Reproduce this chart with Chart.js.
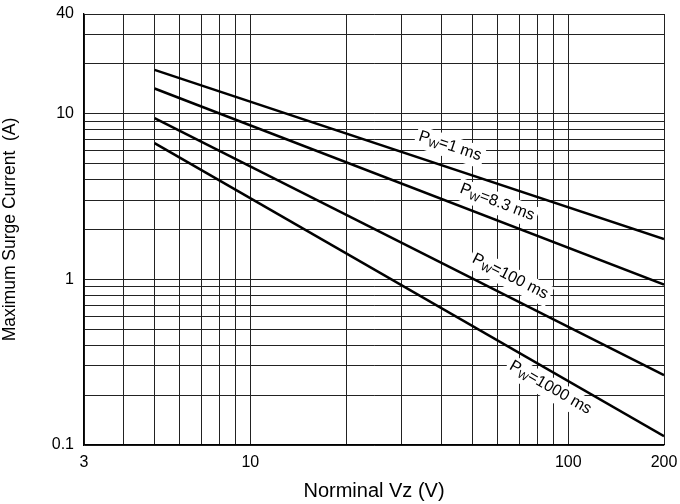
<!DOCTYPE html>
<html>
<head>
<meta charset="utf-8">
<script src="https://cdn.jsdelivr.net/npm/chart.js@4/dist/chart.umd.min.js"></script>
<style>
  html, body { margin: 0; padding: 0; background: #fff; }
  #wrap { width: 680px; height: 504px; }
</style>
</head>
<body>
<div id="wrap"><canvas id="c" width="680" height="504"></canvas></div>
<script>
// ---- data ----
const xValues = [5, 200];
const series1ms = [18.4, 1.75];
const series8_3ms = [14.2, 0.93];
const series100ms = [9.4, 0.264];
const series1000ms = [6.65, 0.113];
const seriesNames = ['1 ms', '8.3 ms', '100 ms', '1000 ms'];
const labelX = [42.5, 59.8, 65.7, 87.9];
const labelY = [6.38, 2.92, 1.04, 0.222];

const xGridValues = [3, 4, 5, 6, 7, 8, 9, 10, 20, 30, 40, 50, 60, 70, 80, 90, 100, 200];
const xTickLabels = [3, 10, 100, 200];
const yGridValues = [0.1, 0.2, 0.3, 0.4, 0.5, 0.6, 0.7, 0.8, 0.9, 1, 2, 3, 4, 5, 6, 7, 8, 9, 10, 20, 30, 40];
const yTickLabels = [0.1, 1, 10, 40];

const xTitle = 'Norminal Vz (V)';
const yTitle = 'Maximum Surge Current  (A)';

const allSeries = [series1ms, series8_3ms, series100ms, series1000ms];
const FONT = "'Liberation Sans', Arial, sans-serif";

const datasets = allSeries.map((s, i) => ({
  label: seriesNames[i],
  data: xValues.map((x, j) => ({ x: x, y: s[j] })),
  showLine: true,
  borderColor: '#000',
  borderWidth: 2.5,
  pointRadius: 0,
  fill: false
}));

const labelPlugin = {
  id: 'pwLabels',
  beforeDatasetsDraw(chart) {
    const ctx = chart.ctx;
    const xs = chart.scales.x, ys = chart.scales.y;
    chart.data.datasets.forEach((ds, i) => {
      const p0 = ds.data[0], p1 = ds.data[ds.data.length - 1];
      const x0 = xs.getPixelForValue(p0.x), y0 = ys.getPixelForValue(p0.y);
      const x1 = xs.getPixelForValue(p1.x), y1 = ys.getPixelForValue(p1.y);
      const ang = Math.atan2(y1 - y0, x1 - x0);
      const cx = xs.getPixelForValue(labelX[i]);
      const cy = ys.getPixelForValue(labelY[i]);
      const big = '16px ' + FONT, small = '11px ' + FONT;
      ctx.save();
      ctx.font = big;
      const wP = ctx.measureText('P').width;
      const wRest = ctx.measureText('=' + seriesNames[i]).width;
      ctx.font = small;
      const wW = ctx.measureText('W').width;
      const total = wP + wW + wRest;
      ctx.translate(cx, cy);
      ctx.rotate(ang);
      ctx.fillStyle = '#fff';
      ctx.fillRect(-total / 2 - 3, -10, total + 6, 22);
      ctx.fillStyle = '#000';
      ctx.textBaseline = 'middle';
      ctx.textAlign = 'left';
      let x = -total / 2;
      ctx.font = big;
      ctx.fillText('P', x, 0);
      x += wP;
      ctx.font = small;
      ctx.fillText('W', x, 4);
      x += wW;
      ctx.font = big;
      ctx.fillText('=' + seriesNames[i], x, 0);
      ctx.restore();
    });
  }
};

new Chart(document.getElementById('c'), {
  type: 'scatter',
  data: { datasets: datasets },
  options: {
    responsive: false,
    animation: false,
    devicePixelRatio: 1,
    layout: { padding: { top: 14, right: 16, left: 0, bottom: 0 } },
    plugins: { legend: { display: false }, tooltip: { enabled: false } },
    scales: {
      x: {
        type: 'logarithmic',
        min: 3, max: 200,
        afterBuildTicks: (scale) => { scale.ticks = xGridValues.map(v => ({ value: v })); },
        afterFit: (scale) => { scale.height = 59; scale.paddingLeft = 0; scale.paddingRight = 0; },
        grid: { color: '#222', lineWidth: 1, drawTicks: false },
        border: { color: '#000', width: 1.3 },
        ticks: {
          autoSkip: false, maxRotation: 0, padding: 8,
          color: '#000', font: { family: FONT, size: 16 },
          callback: (v) => xTickLabels.includes(v) ? String(v) : ''
        },
        title: { display: true, text: xTitle, color: '#000', font: { family: FONT, size: 20 }, padding: { top: 0, bottom: 1 } }
      },
      y: {
        type: 'logarithmic',
        min: 0.1, max: 40,
        afterBuildTicks: (scale) => { scale.ticks = yGridValues.map(v => ({ value: v })); },
        afterFit: (scale) => { scale.width = 84; scale.paddingTop = 0; scale.paddingBottom = 0; },
        grid: { color: '#222', lineWidth: 1, drawTicks: false },
        border: { color: '#000', width: 1.3 },
        ticks: {
          autoSkip: false, padding: 10,
          color: '#000', font: { family: FONT, size: 16 },
          callback: (v) => yTickLabels.includes(v) ? String(v) : ''
        },
        title: { display: true, text: yTitle, color: '#000', font: { family: FONT, size: 17.5 }, padding: { top: 0, bottom: 0 } }
      }
    }
  },
  plugins: [labelPlugin]
});
</script>
</body>
</html>
